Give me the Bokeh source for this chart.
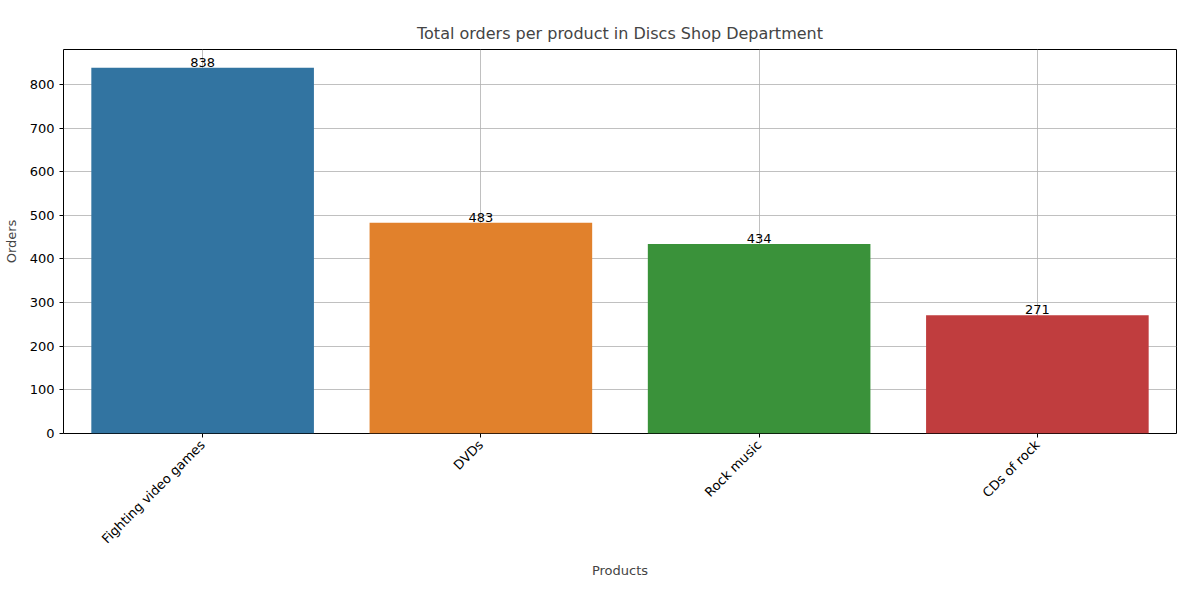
from math import pi

from bokeh.core.properties import value
from bokeh.embed import file_html
from bokeh.models import ColumnDataSource
from bokeh.plotting import figure
from bokeh.resources import INLINE

products = ['Fighting video games', 'DVDs', 'Rock music', 'CDs of rock']
orders = [838, 483, 434, 271]
colors = ['#3274a1', '#e1812c', '#3a923a', '#c03d3e']

FONT = 'DejaVu Sans'

source = ColumnDataSource(data=dict(product=products, orders=orders, color=colors,
                                    label=[str(v) for v in orders]))

p = figure(x_range=products, y_range=(0, 880), width=1184, height=584,
           output_backend="svg", toolbar_location=None, tools='',
           title='Total orders per product in Discs Shop Department',
           min_border_left=63, min_border_right=8, min_border_top=49, min_border_bottom=151)

p.vbar(x='product', top='orders', width=0.8, fill_color='color', line_color=None, source=source)
p.text(x='product', y='orders', text='label', source=source, text_align='center',
       text_baseline='bottom', y_offset=-1, text_font=value(FONT), text_font_size='13px',
       text_color='black')

p.title.align = 'center'
p.title.text_font = FONT
p.title.text_font_size = '16px'
p.title.text_font_style = 'normal'
p.title.standoff = 14

p.xaxis.axis_label = 'Products'
p.yaxis.axis_label = 'Orders'
for ax in (p.xaxis, p.yaxis):
    ax.axis_label_text_font = FONT
    ax.axis_label_text_font_size = '13px'
    ax.axis_label_text_font_style = 'normal'
    ax.major_label_text_font = FONT
    ax.major_label_text_font_size = '13px'
    ax.major_label_text_color = 'black'
    ax.axis_line_color = None
    ax.major_tick_line_color = 'black'
    ax.minor_tick_line_color = None
    ax.major_tick_out = 4
    ax.major_tick_in = 0

p.xaxis.major_label_orientation = pi / 4
p.xaxis.axis_label_standoff = 8
p.yaxis.ticker = [0, 100, 200, 300, 400, 500, 600, 700, 800]
p.yaxis.axis_label_standoff = 8

p.xgrid.grid_line_color = '#b0b0b0'
p.ygrid.grid_line_color = '#b0b0b0'
p.grid.grid_line_alpha = 0.8
p.outline_line_color = 'black'
p.outline_line_alpha = 1
p.x_range.range_padding = 0.0
p.x_range.factor_padding = 0.0

open("out.html", "w").write(file_html(p, INLINE))
